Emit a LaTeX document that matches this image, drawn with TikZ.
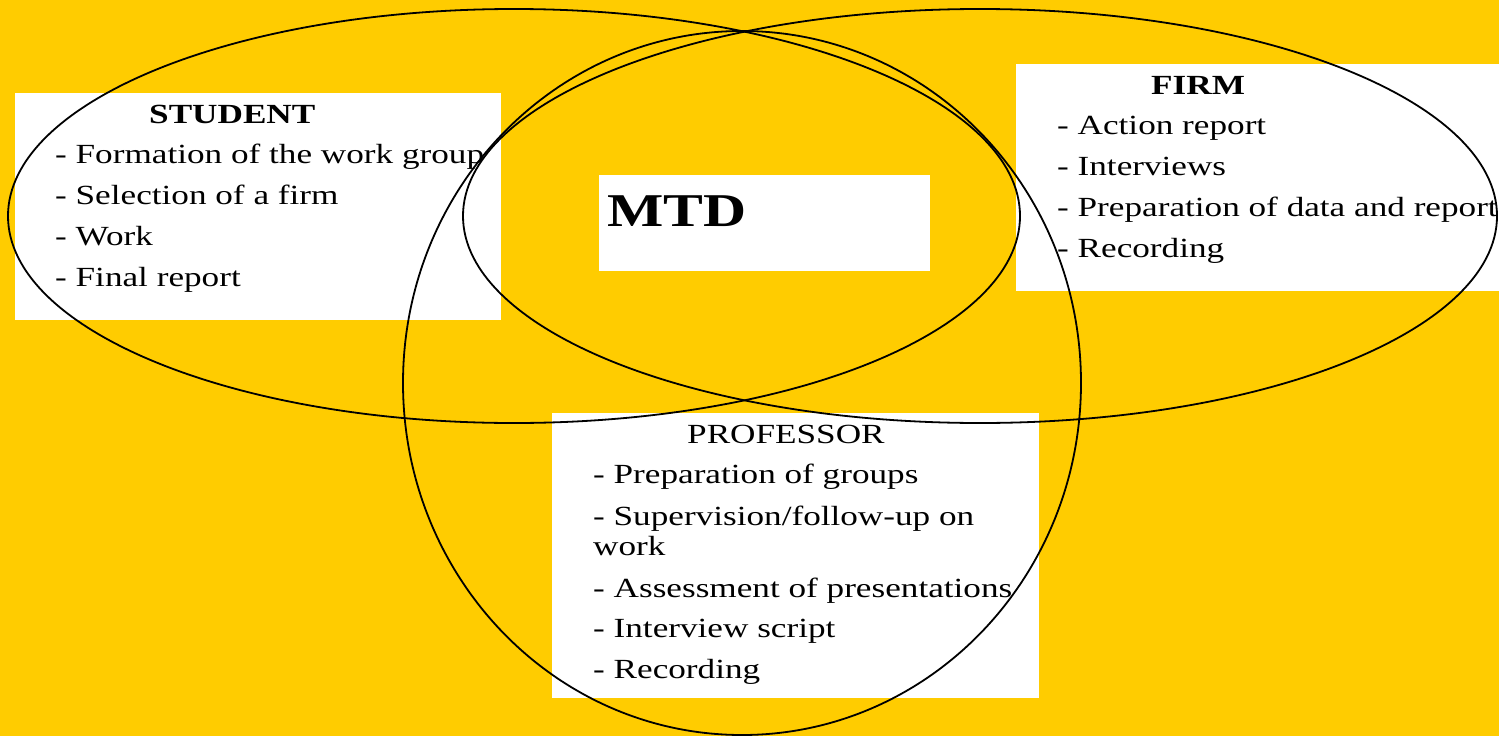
\documentclass[tikz,border=0pt]{standalone}
\usepackage{fontspec}
\newfontfamily\wserif[FakeStretch=1.27]{Liberation Serif}
\definecolor{bgyellow}{HTML}{FFCC00}
\begin{document}
\begin{tikzpicture}[x=1pt,y=-1pt,
  box/.style={fill=white,draw=none},
  ring/.style={draw=black,line width=1.8pt},
  txt/.style={anchor=base west,inner sep=0pt,font=\wserif\fontsize{27.7}{33}\selectfont},
  head/.style={txt,font=\wserif\bfseries\fontsize{27.7}{33}\selectfont},
  big/.style={anchor=base west,inner sep=0pt,font=\wserif\bfseries\fontsize{47}{52}\selectfont}]
\useasboundingbox (0,0) rectangle (1499,736);
\fill[bgyellow] (0,0) rectangle (1499,736);
% boxes
\path[box] (15,93) rectangle (501,320);
\path[box] (1016,64) rectangle (1499,291);
\path[box] (599,175) rectangle (930,271);
\path[box] (552,413) rectangle (1039,698);
% student
\node[head] (sh) at (149,123) {STUDENT};
\node[txt] (s1) at (55,163) {- Formation of the work group};
\node[txt] (s2) at (55,204) {- Selection of a firm};
\node[txt] (s3) at (55,245) {- Work};
\node[txt] (s4) at (55,286) {- Final report};
% firm
\node[head] (fh) at (1151,94) {FIRM};
\node[txt] (f1) at (1057,134) {- Action report};
\node[txt] (f2) at (1057,175) {- Interviews};
\node[txt] (f3) at (1057,216) {- Preparation of data and report};
\node[txt] (f4) at (1057,257) {- Recording};
% mtd
\node[big] (mtd) at (607,226) {MTD};
% professor
\node[txt] (ph) at (687,443) {PROFESSOR};
\node[txt] (p1) at (593,483) {- Preparation of groups};
\node[txt] (p2) at (593,525) {- Supervision/follow-up on};
\node[txt] (p2b) at (593,555) {work};
\node[txt] (p3) at (593,597) {- Assessment of presentations};
\node[txt] (p4) at (593,637) {- Interview script};
\node[txt] (p5) at (593,678) {- Recording};
% ellipses
\draw[ring] (514,216) ellipse [x radius=506, y radius=207];
\draw[ring] (980,216) ellipse [x radius=517, y radius=207];
\draw[ring] (742,383) ellipse [x radius=339, y radius=352];
\end{tikzpicture}
\end{document}
